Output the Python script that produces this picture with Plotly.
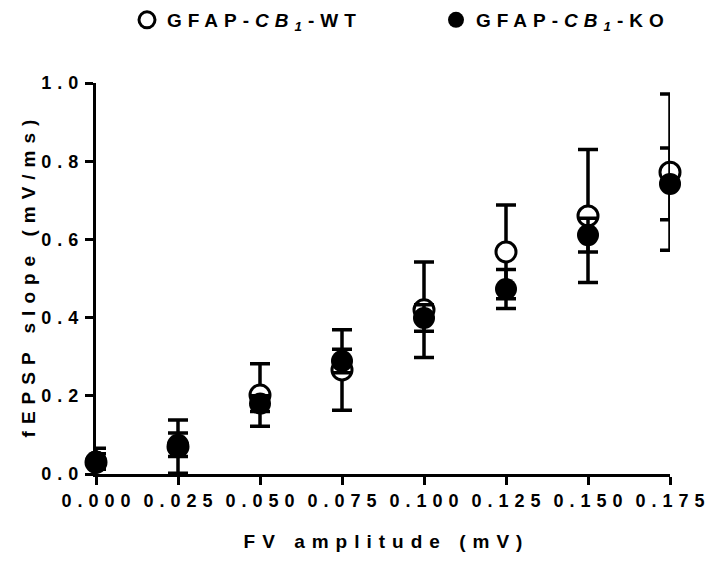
import plotly.graph_objects as go

fv_amplitude = [0.0, 0.025, 0.05, 0.075, 0.1, 0.125, 0.15, 0.175]
wt_mean = [0.03, 0.07, 0.202, 0.266, 0.42, 0.568, 0.66, 0.772]
wt_sem = [0.036, 0.068, 0.08, 0.103, 0.122, 0.12, 0.17, 0.2]
ko_mean = [0.032, 0.075, 0.18, 0.289, 0.399, 0.473, 0.611, 0.742]
ko_sem = [0.02, 0.03, 0.02, 0.03, 0.034, 0.05, 0.043, 0.092]

x_ticks = [0.0, 0.025, 0.05, 0.075, 0.1, 0.125, 0.15, 0.175]
x_ticklabels = ["0.000", "0.025", "0.050", "0.075", "0.100", "0.125", "0.150", "0.175"]
y_ticks = [0.0, 0.2, 0.4, 0.6, 0.8, 1.0]
y_ticklabels = ["0.0", "0.2", "0.4", "0.6", "0.8", "1.0"]

FONT = "Liberation Sans"
W, H = 707, 569

fig = go.Figure()
fig.add_trace(go.Scatter(
    x=fv_amplitude, y=wt_mean, mode="markers",
    name="GFAP-<i>CB<sub>1</sub></i>-WT",
    marker=dict(symbol="circle", size=20, color="white", line=dict(color="black", width=3)),
    error_y=dict(type="data", array=wt_sem, color="black", thickness=3.5, width=10),
    cliponaxis=False, legend="legend",
))
fig.add_trace(go.Scatter(
    x=fv_amplitude, y=ko_mean, mode="markers",
    name="GFAP-<i>CB<sub>1</sub></i>-KO",
    marker=dict(symbol="circle", size=22, color="black", line=dict(color="black", width=0)),
    error_y=dict(type="data", array=ko_sem, color="black", thickness=3.5, width=10),
    cliponaxis=False, legend="legend2",
))

axis_common = dict(
    showline=True, linecolor="black", linewidth=3,
    ticks="outside", ticklen=8, tickwidth=3, tickcolor="black",
    showgrid=False, zeroline=False, automargin=False, ticklabeloverflow="allow",
    tickfont=dict(family=FONT, size=18, color="black", weight="bold"),
)

fig.update_xaxes(
    range=[0, 0.175], tickvals=x_ticks, ticktext=x_ticklabels,
    title=dict(text="FV amplitude (mV)", font=dict(family=FONT, size=19, color="black", weight="bold"), standoff=26),
    **axis_common,
)
fig.update_yaxes(
    range=[0, 1.0], tickvals=y_ticks, ticktext=y_ticklabels,
    title=dict(text="fEPSP slope (mV/ms)", font=dict(family=FONT, size=19, color="black", weight="bold"), standoff=16),
    **axis_common,
)

legend_common = dict(
    orientation="h", xref="container", yref="container", xanchor="left", yanchor="middle",
    font=dict(family=FONT, size=19, color="black", weight="bold"),
    itemsizing="trace", bgcolor="rgba(0,0,0,0)",
    entrywidth=240, entrywidthmode="pixels",
)
fig.update_layout(
    width=W, height=H,
    margin=dict(l=96, r=37, t=83, b=95),
    paper_bgcolor="white", plot_bgcolor="white",
    showlegend=True, hovermode=False,
    legend=dict(x=127 / W, y=1 - 20 / H, **legend_common),
    legend2=dict(x=436 / W, y=1 - 20 / H, **legend_common),
)

post = r"""
var st = document.createElement('style');
st.innerHTML = 'html, body {margin: 0 !important; padding: 0 !important; overflow: hidden;}';
document.head.appendChild(st);
var gd = document.getElementById('{plot_id}');
function spaceText(sel, ls, extra){
  gd.querySelectorAll(sel).forEach(function(t){
    if (t.getAttribute('data-ls')) return;
    var b0 = t.getBBox();
    t.style.letterSpacing = ls + 'px';
    var b1 = t.getBBox();
    var anchor = t.getAttribute('text-anchor') || t.style.textAnchor || 'start';
    var dx = extra || 0;
    if (anchor === 'middle') dx += (b0.x + b0.width / 2) - (b1.x + b1.width / 2) + ls / 2;
    else if (anchor === 'end') dx += (b0.x + b0.width) - (b1.x + b1.width) + ls;
    var x = parseFloat(t.getAttribute('x') || 0);
    t.setAttribute('x', x + dx);
    t.setAttribute('data-ls', '1');
  });
}
function spaceLegend(){
  gd.querySelectorAll('text').forEach(function(t){
    if ((t.textContent || '').indexOf('GFAP') === 0) { t.style.letterSpacing = '6px'; }
  });
}
spaceText('.xtick text', 6, 0);
spaceText('.ytick text', 6, -3);
spaceText('.xtitle, .ytitle', 7, 0);
spaceLegend();
setTimeout(spaceLegend, 0);
setTimeout(spaceLegend, 100);
setTimeout(spaceLegend, 400);
"""
fig.write_html("out.html", post_script=post, config={"displayModeBar": False})
